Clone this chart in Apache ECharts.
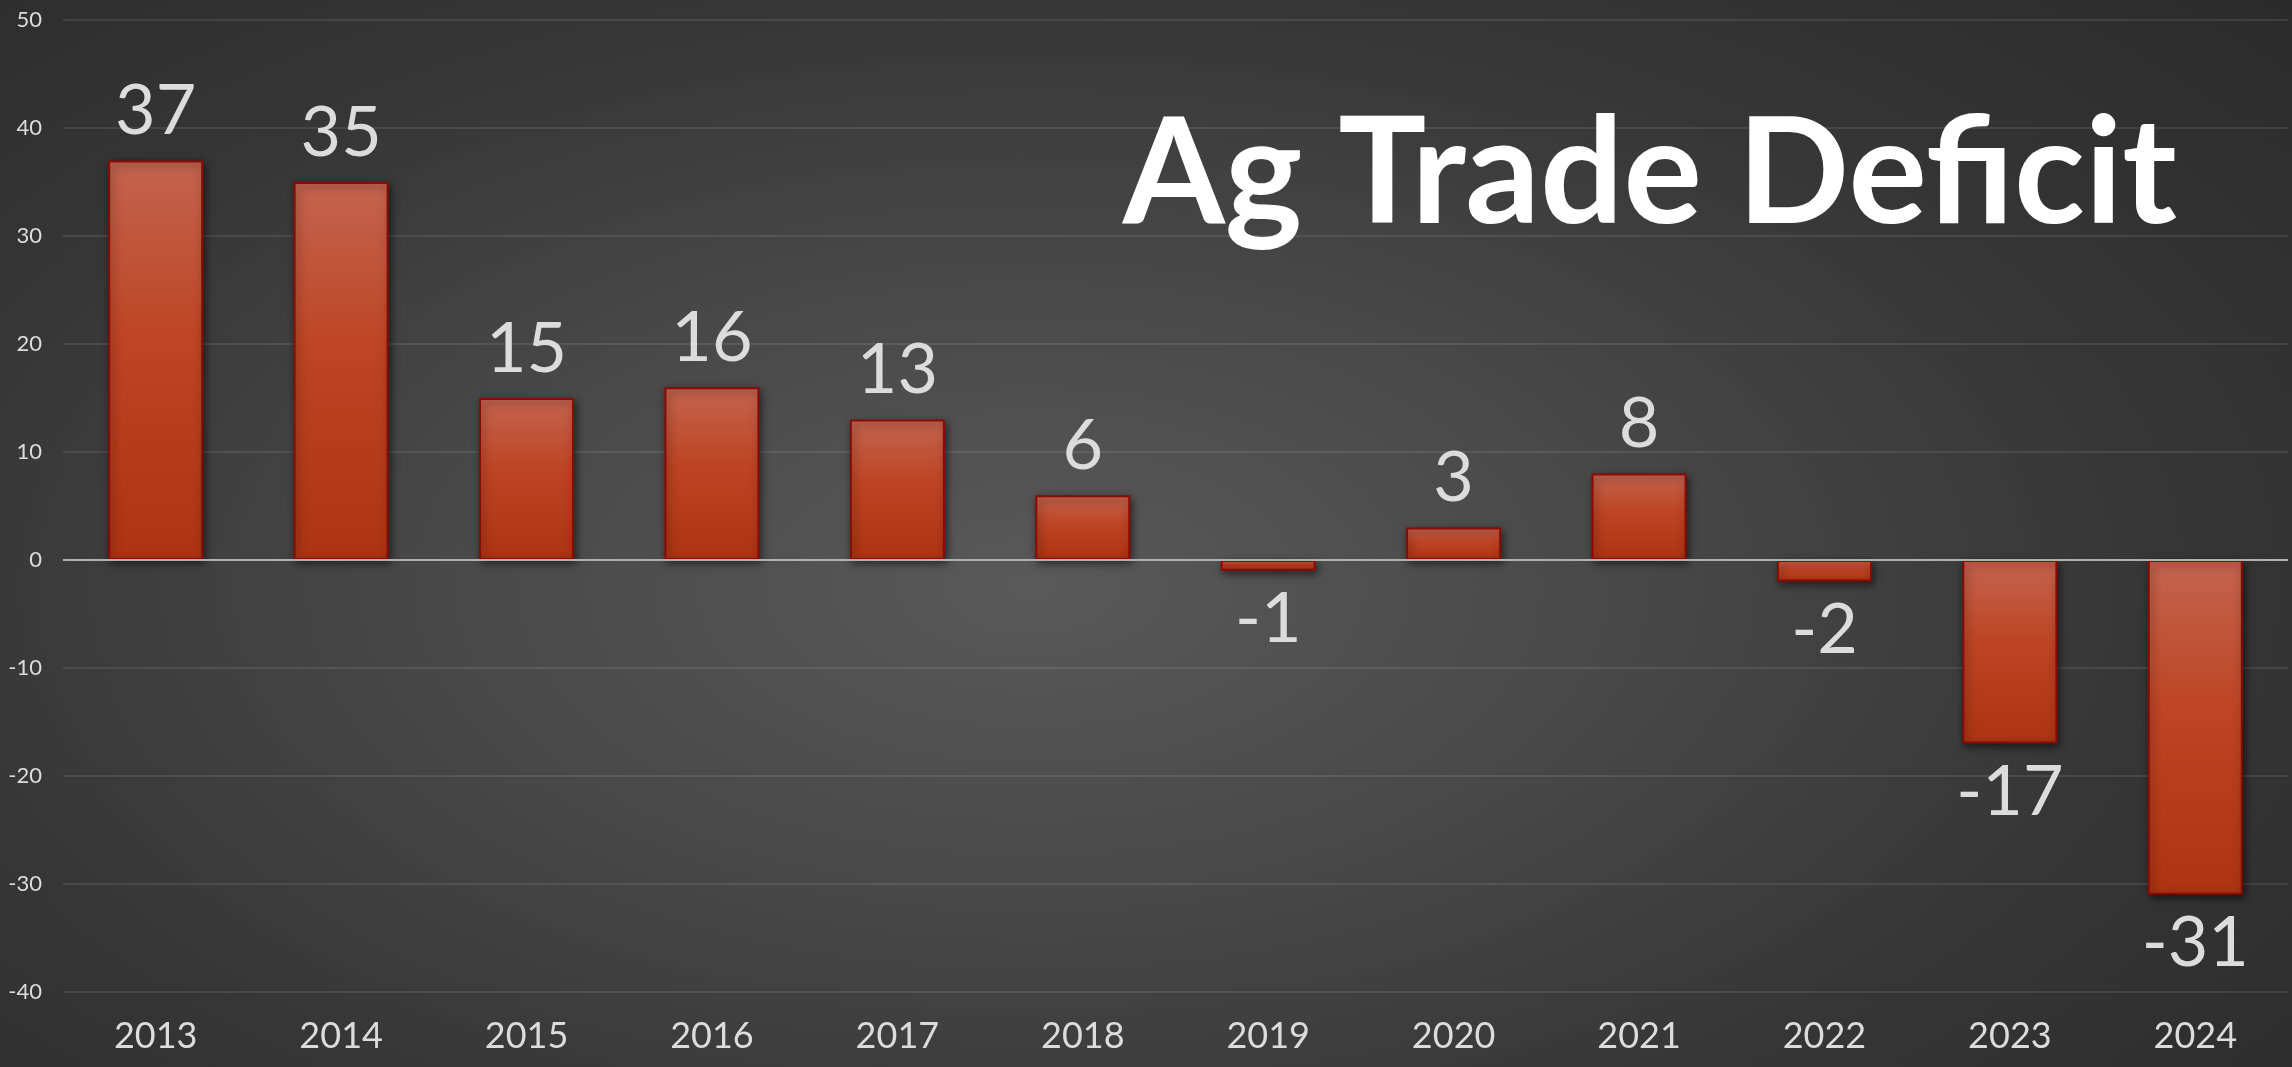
<!DOCTYPE html>
<html>
<head>
<meta charset="utf-8">
<title>Ag Trade Deficit</title>
<script src="https://cdn.jsdelivr.net/npm/echarts@6/dist/echarts.min.js"></script>
<style>
    html, body { margin: 0; padding: 0; background: #2a2a2a; }
    #chart {
        width: 2292px;
        height: 1067px;
        background: radial-gradient(ellipse 75% 85% at 45% 55%, #595959 0%, #484848 35%, #363636 65%, #2a2a2a 100%);
    }
</style>
</head>
<body>
<div id="chart"></div>
<script>
// values
const years = ['2013', '2014', '2015', '2016', '2017', '2018', '2019', '2020', '2021', '2022', '2023', '2024'];
const deficit = [37, 35, 15, 16, 13, 6, -1, 3, 8, -2, -17, -31];
const yMin = -40;
const yMax = 50;
const yStep = 10;

const chartDom = document.getElementById('chart');
const myChart = echarts.init(chartDom);

const labelColor = '#dcdcdc';
const fontName = 'Lato, "Open Sans", sans-serif';

// bars go light at the top, darker at the bottom
const barFill = new echarts.graphic.LinearGradient(0, 0, 0, 1, [
    { offset: 0, color: '#c4644f' },
    { offset: 0.45, color: '#bd4424' },
    { offset: 1, color: '#ac3412' }
]);

const option = {
    backgroundColor: 'transparent',
    animation: false,
    title: {
        text: 'Ag Trade Deficit',
        right: 110,
        top: 97,
        textStyle: {
            color: '#ffffff',
            fontFamily: fontName,
            fontWeight: 'bold',
            fontSize: 147
        }
    },
    grid: {
        left: 63,
        right: 4,
        top: 20,
        bottom: 75
    },
    xAxis: {
        type: 'category',
        data: years,
        axisLine: { show: false, onZero: false },
        axisTick: { show: false },
        axisLabel: {
            color: labelColor,
            fontFamily: fontName,
            fontSize: 36,
            margin: 26
        }
    },
    yAxis: {
        type: 'value',
        min: yMin,
        max: yMax,
        interval: yStep,
        axisLine: { show: false },
        axisTick: { show: false },
        axisLabel: {
            color: labelColor,
            fontFamily: fontName,
            fontSize: 22,
            margin: 21
        },
        splitLine: {
            lineStyle: { color: 'rgba(255,255,255,0.09)', width: 2 }
        }
    },
    series: [{
        type: 'bar',
        barWidth: 95,
        data: deficit.map(v => ({
            value: v,
            label: { position: v < 0 ? 'bottom' : 'top' }
        })),
        itemStyle: {
            color: barFill,
            borderColor: '#8c0a04',
            borderWidth: 2,
            shadowBlur: 8,
            shadowColor: 'rgba(0,0,0,0.55)',
            shadowOffsetX: 2,
            shadowOffsetY: 3
        },
        label: {
            show: true,
            distance: 14,
            color: labelColor,
            fontFamily: fontName,
            fontSize: 70
        },
        markLine: {
            silent: true,
            symbol: 'none',
            label: { show: false },
            lineStyle: { color: '#b0b0b0', width: 2, type: 'solid' },
            data: [{ yAxis: 0 }]
        }
    }]
};

myChart.setOption(option);
</script>
</body>
</html>
